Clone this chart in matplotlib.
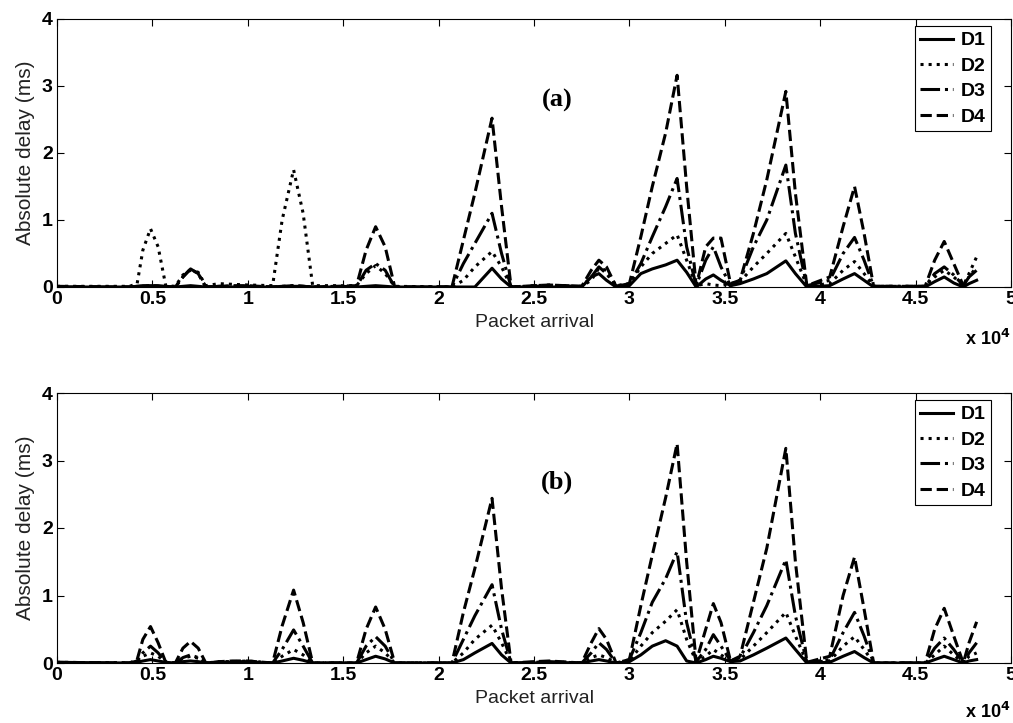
import matplotlib
matplotlib.use('Agg')
import matplotlib.pyplot as plt
import numpy as np

# packet index (common sample grid for all series)
packets = [0, 3800, 4200, 4500, 4900, 5300, 5700,
           6200, 6600, 7000, 7400, 7800,
           8500, 9200, 10000, 11300, 11800, 12400, 12900, 13400,
           15700, 16200, 16700, 17200, 17700,
           20700, 21300, 21900, 22800, 23300, 23800,
           25000, 25800, 27500, 28000, 28400, 28800, 29300,
           30000, 30600, 31200, 31900, 32500, 33000, 33500,
           34000, 34400, 34800, 35300, 35800,
           36500, 37200, 38200, 38700, 39300,
           40500, 41200, 41800, 42300, 42800,
           45500, 46000, 46500, 47000, 47500, 47800, 48200]

# panel (a) absolute delay in ms
d1_a = [0, 0, 0.01, 0.02, 0.02, 0.02, 0.01,
        0, 0.01, 0.02, 0.01, 0,
        0, 0, 0, 0, 0, 0.01, 0.01, 0,
        0, 0.01, 0.02, 0.01, 0,
        0, 0, 0, 0.28, 0.12, 0,
        0, 0, 0, 0.15, 0.2, 0.1, 0,
        0.02, 0.2, 0.27, 0.33, 0.40, 0.22, 0,
        0.12, 0.18, 0.1, 0.02, 0.05,
        0.12, 0.2, 0.39, 0.2, 0,
        0.02, 0.12, 0.2, 0.1, 0,
        0, 0.08, 0.15, 0.06, 0, 0.05, 0.1]
d2_a = [0.01, 0.01, 0.05, 0.55, 0.87, 0.6, 0.02,
        0.01, 0.18, 0.25, 0.22, 0.02,
        0.05, 0.04, 0.03, 0.02, 1.0, 1.75, 1.1, 0.02,
        0.02, 0.2, 0.32, 0.2, 0.01,
        0, 0.1, 0.3, 0.53, 0.3, 0,
        0.02, 0.03, 0.01, 0.1, 0.28, 0.25, 0.02,
        0.05, 0.3, 0.5, 0.65, 0.78, 0.4, 0.02,
        0.05, 0.03, 0.02, 0.05, 0.08,
        0.3, 0.5, 0.8, 0.45, 0.02,
        0.05, 0.25, 0.38, 0.2, 0.01,
        0.01, 0.15, 0.25, 0.15, 0.02, 0.2, 0.45]
d3_a = [0, 0, 0.01, 0.01, 0.02, 0.01, 0,
        0, 0.15, 0.27, 0.2, 0,
        0.01, 0.01, 0.01, 0, 0.01, 0.02, 0.01, 0,
        0.01, 0.25, 0.35, 0.25, 0,
        0, 0.35, 0.65, 1.10, 0.5, 0,
        0.01, 0.02, 0.01, 0.15, 0.3, 0.2, 0.01,
        0.05, 0.35, 0.75, 1.2, 1.62, 0.6, 0.02,
        0.4, 0.6, 0.3, 0.02, 0.1,
        0.6, 1.0, 1.82, 0.8, 0.02,
        0.1, 0.5, 0.74, 0.4, 0.01,
        0.01, 0.2, 0.3, 0.18, 0.02, 0.15, 0.3]
d4_a = [0.01, 0, 0, 0.01, 0.02, 0.01, 0,
        0, 0.15, 0.27, 0.2, 0,
        0.01, 0.02, 0.02, 0, 0.01, 0.02, 0.01, 0,
        0.02, 0.55, 0.9, 0.6, 0,
        0, 0.7, 1.4, 2.52, 1.2, 0,
        0.02, 0.03, 0.01, 0.25, 0.4, 0.3, 0.01,
        0.05, 0.75, 1.5, 2.3, 3.16, 1.5, 0.02,
        0.6, 0.73, 0.73, 0.05, 0.1,
        0.8, 1.6, 2.92, 1.4, 0.02,
        0.15, 0.9, 1.5, 0.8, 0.01,
        0.01, 0.4, 0.68, 0.35, 0.02, 0.15, 0.25]

# panel (b) absolute delay in ms
d1_b = [0.01, 0, 0.01, 0.03, 0.05, 0.03, 0.01,
        0, 0.02, 0.03, 0.02, 0,
        0.01, 0.01, 0.01, 0, 0.03, 0.07, 0.04, 0,
        0, 0.05, 0.1, 0.06, 0,
        0, 0.05, 0.15, 0.29, 0.12, 0,
        0, 0.01, 0, 0.03, 0.05, 0.03, 0,
        0.02, 0.12, 0.25, 0.33, 0.25, 0.03, 0,
        0.05, 0.1, 0.07, 0.02, 0.03,
        0.12, 0.22, 0.37, 0.2, 0,
        0.01, 0.1, 0.17, 0.08, 0,
        0, 0.05, 0.1, 0.05, 0, 0.03, 0.05]
d2_b = [0.01, 0, 0.02, 0.1, 0.15, 0.1, 0.01,
        0, 0.07, 0.1, 0.07, 0,
        0.02, 0.02, 0.03, 0, 0.1, 0.2, 0.12, 0,
        0, 0.15, 0.25, 0.15, 0,
        0, 0.15, 0.35, 0.56, 0.3, 0,
        0.01, 0.02, 0, 0.08, 0.12, 0.08, 0,
        0.03, 0.25, 0.45, 0.62, 0.79, 0.35, 0.02,
        0.1, 0.2, 0.12, 0.03, 0.05,
        0.25, 0.45, 0.75, 0.4, 0.01,
        0.03, 0.25, 0.39, 0.2, 0,
        0, 0.12, 0.25, 0.12, 0, 0.1, 0.15]
d3_b = [0, 0, 0.03, 0.15, 0.25, 0.15, 0.01,
        0, 0.08, 0.12, 0.08, 0,
        0.01, 0.02, 0.02, 0, 0.2, 0.49, 0.25, 0,
        0, 0.25, 0.39, 0.25, 0,
        0, 0.35, 0.7, 1.16, 0.5, 0,
        0.01, 0.02, 0, 0.15, 0.3, 0.2, 0,
        0.05, 0.45, 0.9, 1.25, 1.65, 0.6, 0.02,
        0.2, 0.42, 0.25, 0.03, 0.08,
        0.45, 0.85, 1.53, 0.7, 0.01,
        0.05, 0.45, 0.75, 0.4, 0,
        0, 0.22, 0.37, 0.2, 0, 0.15, 0.3]
d4_b = [0.01, 0, 0.05, 0.35, 0.54, 0.3, 0.01,
        0, 0.22, 0.32, 0.22, 0,
        0.02, 0.03, 0.03, 0, 0.55, 1.08, 0.6, 0,
        0, 0.5, 0.83, 0.5, 0,
        0, 0.75, 1.4, 2.44, 1.1, 0,
        0.02, 0.03, 0, 0.3, 0.51, 0.35, 0,
        0.05, 0.85, 1.6, 2.45, 3.25, 1.5, 0.02,
        0.5, 0.88, 0.6, 0.03, 0.1,
        0.9, 1.7, 3.18, 1.5, 0.01,
        0.1, 1.0, 1.57, 0.8, 0,
        0, 0.5, 0.81, 0.4, 0, 0.3, 0.61]

labels = ['D1', 'D2', 'D3', 'D4']
styles = ['-', ':', '-.', '--']
xticks = [0, 5000, 10000, 15000, 20000, 25000, 30000, 35000, 40000, 45000, 50000]
xtick_labels = ['0', '0.5', '1', '1.5', '2', '2.5', '3', '3.5', '4', '4.5', '5']
yticks = [0, 1, 2, 3, 4]

plt.rcParams['font.family'] = ['Liberation Sans', 'DejaVu Sans']

W, H = 1013, 723
fig = plt.figure(figsize=(W/100, H/100), dpi=100)

def px_axes(left, top, right, bottom):
    return fig.add_axes([left/W, 1-bottom/H, (right-left)/W, (bottom-top)/H])

# (axes box in px, series, tag, tag x, tag y, y of the x10^4 note in axes coords)
panels = [((57, 19, 1011, 287), [d1_a, d2_a, d3_a, d4_a], '(a)', 2.62e4, 2.79, -0.195),
          ((57, 393, 1011, 663), [d1_b, d2_b, d3_b, d4_b], '(b)', 2.62e4, 2.68, -0.18)]

for box, series, tag, tx, ty, my in panels:
    ax = px_axes(*box)
    for y, lab, ls in zip(series, labels, styles):
        ax.plot(packets, y, ls, color='k', lw=2.2, label=lab)
    ax.set_xlim(0, 50000)
    ax.set_ylim(0, 4)
    ax.set_xticks(xticks)
    ax.set_xticklabels(xtick_labels)
    ax.set_yticks(yticks)
    ax.tick_params(direction='in', length=5, width=0.8, top=True, right=True,
                   labelsize=14, pad=3)
    for t in ax.get_xticklabels() + ax.get_yticklabels():
        t.set_fontweight('bold')
    for s in ax.spines.values():
        s.set_linewidth(0.8)
    ax.set_xlabel('Packet arrival', fontsize=14, color='#222222', labelpad=4)
    ax.set_ylabel('Absolute delay (ms)', fontsize=15, color='#222222', labelpad=5)
    ax.text(tx, ty, tag, fontsize=19, fontweight='bold', family='Liberation Serif',
            ha='center', va='center')
    ax.text(0.999, my, r'x 10$^{\mathbf{4}}$', transform=ax.transAxes, ha='right',
            va='center', fontsize=13, fontweight='bold')
    leg = ax.legend(loc='upper right', bbox_to_anchor=(0.979, 0.974), borderaxespad=0,
                    fancybox=False, edgecolor='k', framealpha=1,
                    prop={'weight': 'bold', 'size': 14}, handlelength=1.7,
                    handletextpad=0.35, labelspacing=0.4, borderpad=0.3)
    leg.get_frame().set_linewidth(0.8)

plt.savefig('out.png', dpi=100)
